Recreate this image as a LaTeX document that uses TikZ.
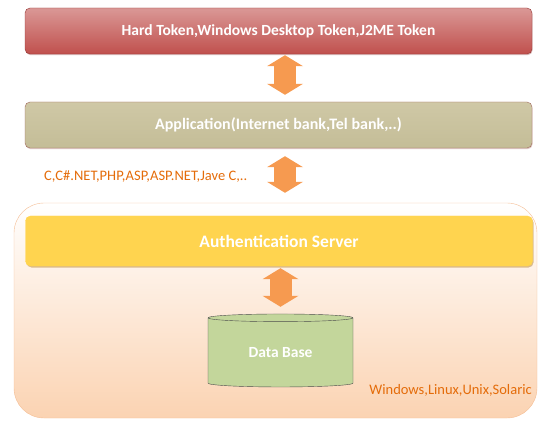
\documentclass[tikz,border=0pt]{standalone}
\usepackage{fontspec}
\setmainfont{Carlito}
\usetikzlibrary{arrows.meta, shapes.geometric, shadows}

\definecolor{tokenlight}{HTML}{DA9896}
\definecolor{tokenred}{HTML}{C0504D}
\definecolor{tokenedge}{HTML}{943634}
\definecolor{applight}{HTML}{CFC8A6}
\definecolor{apptan}{HTML}{C4BD97}
\definecolor{appedge}{HTML}{A0685C}
\definecolor{authgold}{HTML}{FFD44F}
\definecolor{authedge}{HTML}{B9852E}
\definecolor{peach}{HTML}{FBD3B2}
\definecolor{peachedge}{HTML}{F5BE95}
\definecolor{dbgreen}{HTML}{C3D69B}
\definecolor{arrorange}{HTML}{F69A50}
\definecolor{noteorange}{HTML}{E46C0A}

\begin{document}
\begin{tikzpicture}[
  x=1pt,
  y=-1pt,
  font=\bfseries,
  layer/.style={draw, rounded corners=5pt, align=center, text=white,
    inner sep=0pt, minimum width=507pt, minimum height=46pt},
  token/.style={layer, draw=tokenedge, top color=tokenlight, bottom color=tokenred,
    font=\fontsize{15.5}{18}\selectfont\bfseries,
    drop shadow={shadow xshift=0.6pt, shadow yshift=-1.2pt, fill=tokenedge!70}},
  application/.style={layer, draw=appedge, top color=applight, bottom color=apptan,
    font=\fontsize{16}{19}\selectfont\bfseries,
    drop shadow={shadow xshift=0.6pt, shadow yshift=-1.2pt, fill=appedge!70}},
  auth/.style={layer, draw=authgold, fill=authgold, minimum height=50pt,
    font=\fontsize{17.5}{20}\selectfont\bfseries,
    drop shadow={shadow xshift=1pt, shadow yshift=-1.5pt, fill=authedge}},
  server/.style={draw=peachedge, rounded corners=30pt, top color=white, bottom color=peach,
    inner sep=0pt, minimum width=523pt, minimum height=215pt},
  database/.style={cylinder, shape border rotate=90, aspect=0.12, draw=black!70,
    fill=dbgreen, text=white, inner sep=0pt, minimum width=145pt, minimum height=73pt,
    font=\fontsize{15.5}{18}\selectfont\bfseries},
  fatarrow/.style={draw=arrorange, line width=22pt,
    {Triangle[width=36pt, length=11pt, line width=0pt]}-{Triangle[width=36pt, length=11pt, line width=0pt]}},
  note/.style={font=\fontsize{14.5}{17}\selectfont, text=noteorange, inner sep=0pt}
]
  \useasboundingbox (0,0) rectangle (538,422);

  % Client side layers.
  \node[token] at (278.5,31)        (tokens) {Hard Token,Windows Desktop Token,J2ME Token};
  \node[application] at (278.5,125) (app)    {Application(Internet bank,Tel bank,..)};

  % Server side with authentication and storage.
  \node[server] at (275.5,310.5)    (host)   {};
  \node[auth] at (279,241)          (authsrv){Authentication Server};
  \node[database] at (280.5,352.5)  (db)     {Data Base};

  \coordinate (axis) at (285,0);
  \draw[fatarrow, shorten <=1pt, shorten >=7pt] (tokens.south -| axis) -- (app.north -| axis);
  \draw[fatarrow, shorten <=8pt, shorten >=10pt] (app.south -| axis) -- (host.north -| axis);
  \draw[fatarrow, shorten <=2pt, shorten >=7pt] (authsrv.south -| db.north) -- (db.north);

  % Notes on languages and platforms.
  \node[note, anchor=west] at (44,177)  (langs)     {C,C\#.NET,PHP,ASP,ASP.NET,Jave C,..};
  \node[note, anchor=east] at (532,390) (platforms) {Windows,Linux,Unix,Solaric};
\end{tikzpicture}
\end{document}
